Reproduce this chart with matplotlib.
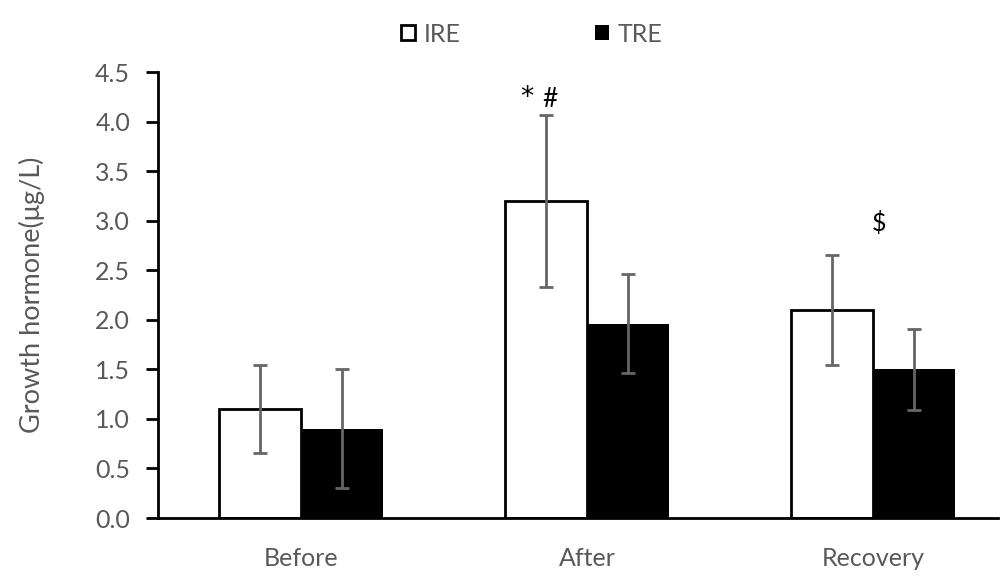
import matplotlib
matplotlib.use("Agg")
import matplotlib.pyplot as plt
import numpy as np

categories = ["Before", "After", "Recovery"]
ire_values = [1.10, 3.20, 2.10]
ire_errors = [0.44, 0.87, 0.555]
tre_values = [0.90, 1.96, 1.50]
tre_errors = [0.60, 0.50, 0.41]
series_names = ["IRE", "TRE"]
y_ticks = [0.0, 0.5, 1.0, 1.5, 2.0, 2.5, 3.0, 3.5, 4.0, 4.5]

plt.rcParams['font.family'] = ['Lato', 'DejaVu Sans']
gray = '#595959'
fs = 18

fig = plt.figure(figsize=(10, 5.87), dpi=100)
ax = fig.add_axes([0.158, 0.1175, 0.840, 0.7598])

x = np.arange(len(categories))
w = 0.287
err_kw = dict(ecolor='#666666', elinewidth=2, capsize=5, capthick=2)
ax.bar(x - w/2, ire_values, w, yerr=ire_errors, color='white', edgecolor='black',
       linewidth=2, label=series_names[0], error_kw=err_kw, zorder=2)
ax.bar(x + w/2, tre_values, w, yerr=tre_errors, color='black', edgecolor='black',
       linewidth=0, label=series_names[1], error_kw=err_kw, zorder=2)

ax.set_xlim(-0.5, 2.437)
ax.set_ylim(0, 4.5)
ax.set_yticks(y_ticks)
ax.set_yticklabels([f"{v:.1f}" for v in y_ticks])
ax.set_xticks(x)
ax.set_xticklabels(categories)
ax.tick_params(axis='x', length=0, pad=21, labelsize=fs, labelcolor=gray)
ax.tick_params(axis='y', length=9, width=2, direction='out', pad=11, labelsize=fs, labelcolor=gray)
for s in ['top', 'right']:
    ax.spines[s].set_visible(False)
for s in ['left', 'bottom']:
    ax.spines[s].set_linewidth(2)
ax.set_ylabel("Growth hormone(μg/L)", fontsize=19.5, color=gray, labelpad=36)

# annotations
ax.text(0.79, 4.24, "*", ha='center', va='center', fontsize=19, color='black',
        family='DejaVu Sans')
ax.text(0.87, 4.22, "#", ha='center', va='center', fontsize=19, color='black')
ax.text(x[2] + 0.02, 2.98, "$", ha='center', va='center', fontsize=fs, color='black')

leg = ax.legend(loc='center', bbox_to_anchor=(0.445, 1.085), ncol=2, frameon=False,
                fontsize=fs, handlelength=0.55, handleheight=0.55, handletextpad=0.35,
                columnspacing=5.4, labelcolor=gray)

fig.savefig("out.png", dpi=100)
